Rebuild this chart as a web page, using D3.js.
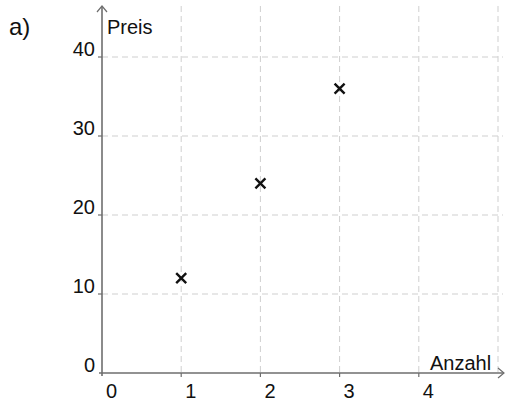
<!DOCTYPE html>
<html>
<head>
<meta charset="utf-8">
<script src="https://cdn.jsdelivr.net/npm/d3@7"></script>
<style>
  body { margin: 0; background: #fff; }
  text { font-family: "Liberation Sans", Arial, sans-serif; }
</style>
</head>
<body>
<script>
// data
var anzahl = [1, 2, 3];
var preis = [12, 24, 36];
var xTicks = [0, 1, 2, 3, 4];
var yTicks = [0, 10, 20, 30, 40];
var xGrid = [1, 2, 3, 4, 5];
var yGrid = [10, 20, 30, 40];

var width = 505,
    height = 401;

var x = d3.scaleLinear().domain([0, 5]).range([102, 498]);
var y = d3.scaleLinear().domain([0, 40]).range([373, 57]);

var svg = d3.select("body").append("svg")
    .attr("width", width)
    .attr("height", height);

// dashed grid
svg.selectAll(".vgrid")
    .data(xGrid)
  .enter().append("line")
    .attr("x1", function(d) { return x(d); })
    .attr("x2", function(d) { return x(d); })
    .attr("y1", 6)
    .attr("y2", y(0))
    .attr("stroke", "#cfcfcf")
    .attr("stroke-dasharray", "6,4");

svg.selectAll(".hgrid")
    .data(yGrid)
  .enter().append("line")
    .attr("x1", x(0))
    .attr("x2", 503)
    .attr("y1", function(d) { return y(d); })
    .attr("y2", function(d) { return y(d); })
    .attr("stroke", "#cfcfcf")
    .attr("stroke-dasharray", "6,4");

var axisColor = "#6e6e6e";

// axes with arrows
svg.append("line")
    .attr("x1", x(0)).attr("x2", x(0))
    .attr("y1", y(0) + 3).attr("y2", 6)
    .attr("stroke", axisColor).attr("stroke-width", 1.6);
svg.append("path")
    .attr("d", "M" + (x(0) - 5) + ",12 L" + x(0) + ",6 L" + (x(0) + 5) + ",12")
    .attr("fill", "none").attr("stroke", axisColor).attr("stroke-width", 1.2);

svg.append("line")
    .attr("x1", x(0) - 3).attr("x2", 504)
    .attr("y1", y(0)).attr("y2", y(0))
    .attr("stroke", axisColor).attr("stroke-width", 1.6);
svg.append("path")
    .attr("d", "M498," + (y(0) - 5) + " L504," + y(0) + " L498," + (y(0) + 5))
    .attr("fill", "none").attr("stroke", axisColor).attr("stroke-width", 1.2);

// tick marks
svg.selectAll(".xtick")
    .data(xTicks.slice(1))
  .enter().append("line")
    .attr("x1", function(d) { return x(d); })
    .attr("x2", function(d) { return x(d); })
    .attr("y1", y(0)).attr("y2", y(0) + 4)
    .attr("stroke", axisColor).attr("stroke-width", 1.2);

svg.selectAll(".ytick")
    .data(yTicks.slice(1))
  .enter().append("line")
    .attr("x1", x(0) - 4).attr("x2", x(0))
    .attr("y1", function(d) { return y(d); })
    .attr("y2", function(d) { return y(d); })
    .attr("stroke", axisColor).attr("stroke-width", 1.2);

// tick labels
svg.selectAll(".xlab")
    .data(xTicks)
  .enter().append("text")
    .attr("x", function(d) { return x(d) + 4; })
    .attr("y", y(0) + 25)
    .attr("font-size", 20)
    .attr("fill", "#111")
    .text(function(d) { return d; });

svg.selectAll(".ylab")
    .data(yTicks)
  .enter().append("text")
    .attr("x", x(0) - 7)
    .attr("y", function(d) { return y(d) - 1; })
    .attr("text-anchor", "end")
    .attr("font-size", 20)
    .attr("fill", "#111")
    .text(function(d) { return d; });

// axis names
svg.append("text")
    .attr("x", x(0) + 5).attr("y", 34)
    .attr("font-size", 20).attr("fill", "#111")
    .text("Preis");
svg.append("text")
    .attr("x", 430).attr("y", 370)
    .attr("font-size", 20).attr("fill", "#111")
    .text("Anzahl");

svg.append("text")
    .attr("x", 9).attr("y", 35)
    .attr("font-family", "'Open Sans', sans-serif")
    .attr("font-size", 24).attr("fill", "#111")
    .text("a)");

// cross markers
var pts = anzahl.map(function(a, i) { return {a: a, p: preis[i]}; });
var r = 5;
svg.selectAll(".mark")
    .data(pts)
  .enter().append("path")
    .attr("d", function(d) {
      var cx = x(d.a), cy = y(d.p);
      return "M" + (cx - r) + "," + (cy - r) + "L" + (cx + r) + "," + (cy + r) +
             "M" + (cx - r) + "," + (cy + r) + "L" + (cx + r) + "," + (cy - r);
    })
    .attr("stroke", "#111")
    .attr("stroke-width", 2.4);
</script>
</body>
</html>
